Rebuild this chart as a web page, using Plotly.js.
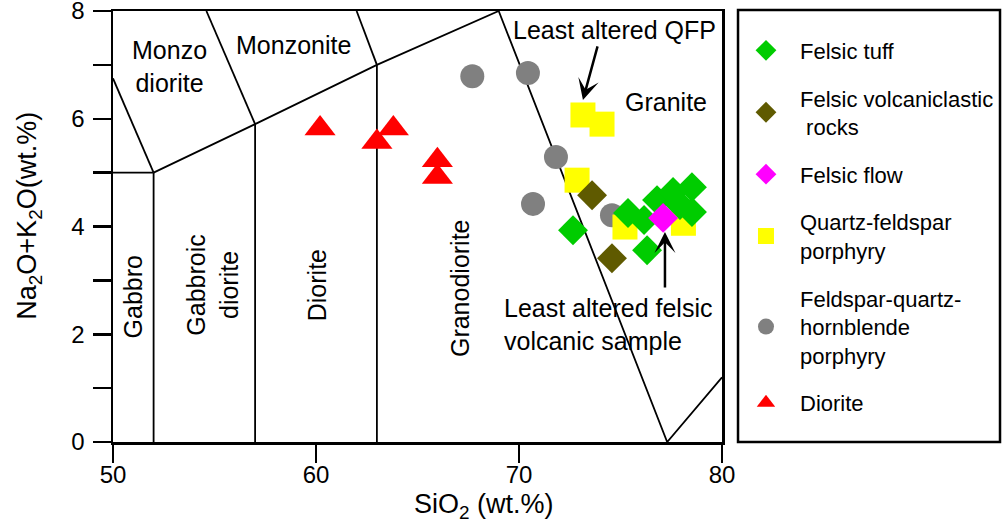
<!DOCTYPE html>
<html>
<head>
<meta charset="utf-8">
<script src="https://cdn.plot.ly/plotly-3.0.1.min.js"></script>
<style>html,body{margin:0;padding:0;background:#fff;}#chart{width:1002px;height:531px;}</style>
</head>
<body>
<div id="chart"></div>
<script>
// ---- Data (SiO2 wt.% vs Na2O+K2O wt.%) ----
const felsicTuffX = [72.66, 75.37, 76.16, 76.31, 76.8, 77.59, 77.93, 78.52, 78.52];
const felsicTuffY = [3.93, 4.25, 4.12, 3.56, 4.49, 4.64, 4.40, 4.73, 4.27];

const volcaniclasticX = [73.6, 74.58];
const volcaniclasticY = [4.58, 3.41];

const felsicFlowX = [77.1];
const felsicFlowY = [4.16];

const qfpX = [73.15, 74.09, 72.86, 75.22, 78.1];
const qfpY = [6.07, 5.90, 4.86, 3.99, 4.06];

const fqhpX = [67.7, 70.44, 71.82, 70.69, 74.58];
const fqhpY = [6.79, 6.85, 5.29, 4.42, 4.21];

const dioriteX = [60.2, 63.0, 63.81, 65.98, 65.98];
const dioriteY = [5.82, 5.57, 5.82, 5.23, 4.92];

// Classification field boundaries (null separates segments)
const boundaryX = [52, 52, null, 50, 52, null, 50, 52, null,
                   52, 57, 63, 69, null, 57, 57, null, 57, 54.6, null,
                   63, 63, null, 63, 62, null, 69, 77.3, 80];
const boundaryY = [0, 5, null, 5, 5, null, 6.75, 5, null,
                   5, 5.9, 7, 8, null, 0, 5.9, null, 5.9, 8, null,
                   0, 7, null, 7, 8, null, 8, 0, 1.2];

// Field names and their positions
const fieldNames = ['Monzo<br>diorite', 'Monzonite', 'Granite', 'Gabbro', 'Gabbroic<br>diorite', 'Diorite', 'Granodiorite'];
const fieldX = [52.8, 58.9, 77.24, 51.0, 54.9, 60.05, 67.1];
const fieldY = [6.97, 7.37, 6.31, 2.69, 2.91, 2.91, 2.86];
const fieldAngle = [0, 0, 0, -90, -90, -90, -90];

const xTicks = [50, 60, 70, 80];
const yTicks = [0, 2, 4, 6, 8];

const FONT = 'Liberation Sans, Arial, Helvetica, sans-serif';

function pts(name, x, y, symbol, color, size, rank) {
  return {
    type: 'scatter', mode: 'markers', name: name, x: x, y: y,
    legendgroup: 'g' + rank, legendrank: rank,
    marker: {symbol: symbol, color: color, size: size, line: {width: 0}},
    hoverinfo: 'skip'
  };
}

const traces = [
  {type: 'scatter', mode: 'lines', x: boundaryX, y: boundaryY, connectgaps: false,
   line: {color: '#000', width: 1.8}, showlegend: false, hoverinfo: 'skip'},
  pts('Feldspar-quartz-<br>hornblende<br>porphyry', fqhpX, fqhpY, 'circle', '#808080', 24, 5),
  pts('Quartz-feldspar<br>porphyry', qfpX, qfpY, 'square', '#FFFF00', 25, 4),
  pts('Felsic tuff', felsicTuffX, felsicTuffY, 'diamond', '#00CC00', 23, 1),
  pts('Felsic volcaniclastic<br> rocks', volcaniclasticX, volcaniclasticY, 'diamond', '#5F5A00', 23, 2),
  pts('Felsic flow', felsicFlowX, felsicFlowY, 'diamond', '#FF00FF', 23, 3),
  pts('Diorite', dioriteX, dioriteY, 'triangle-up', '#FF0000', 27, 6)
];

const annotations = fieldNames.map((t, i) => ({
  x: fieldX[i], y: fieldY[i], xref: 'x', yref: 'y', text: t, showarrow: false,
  textangle: fieldAngle[i], font: {family: FONT, size: 25, color: '#000'},
  xanchor: 'center', yanchor: 'middle', align: 'center'
}));

annotations.push(
  {x: 74.68, y: 7.64, xref: 'x', yref: 'y', text: 'Least altered QFP', showarrow: false,
   font: {family: FONT, size: 25, color: '#000'}, xanchor: 'center', yanchor: 'middle'},
  {x: 69.16, y: 2.19, xref: 'x', yref: 'y', text: 'Least altered felsic<br>volcanic sample', showarrow: false,
   font: {family: FONT, size: 25, color: '#000'}, xanchor: 'left', yanchor: 'middle', align: 'left'},
  {x: 73.15, y: 6.35, xref: 'x', yref: 'y', text: '', showarrow: true, ax: 15, ay: -55,
   arrowhead: 3, arrowsize: 1.4, arrowwidth: 2.5, arrowcolor: '#000', standoff: 0},
  {x: 77.19, y: 3.90, xref: 'x', yref: 'y', text: '', showarrow: true, ax: 0, ay: 57,
   arrowhead: 3, arrowsize: 1.4, arrowwidth: 2.5, arrowcolor: '#000', standoff: 0},
  {x: 0.609, y: -0.148, xref: 'paper', yref: 'paper', text: 'SiO<sub>2</sub> (wt.%)', showarrow: false,
   font: {family: FONT, size: 27, color: '#000'}, xanchor: 'center', yanchor: 'middle'},
  {x: -0.138, y: 0.525, xref: 'paper', yref: 'paper', text: 'Na<sub>2</sub>O+K<sub>2</sub>O(wt.%)', showarrow: false,
   textangle: -90, font: {family: FONT, size: 27, color: '#000'}, xanchor: 'center', yanchor: 'middle'}
);

const layout = {
  width: 1002, height: 531,
  margin: {l: 113, r: 280, t: 11, b: 89, autoexpand: false},
  paper_bgcolor: '#fff', plot_bgcolor: '#fff',
  hovermode: false,
  font: {family: FONT, color: '#000'},
  xaxis: {
    range: [50, 80], tickvals: xTicks, ticktext: xTicks.map(String),
    showgrid: false, zeroline: false, showline: true, mirror: true,
    linecolor: '#000', linewidth: 2.5,
    ticks: 'outside', ticklen: 18, tickwidth: 2.5, tickcolor: '#000',
    ticklabelstandoff: -8, ticklabeloverflow: 'allow',
    tickfont: {family: FONT, size: 24, color: '#000'}
  },
  yaxis: {
    range: [0, 8.0001], tickvals: yTicks, ticktext: yTicks.map(String),
    showgrid: false, zeroline: false, showline: true, mirror: true,
    linecolor: '#000', linewidth: 2.5,
    ticks: 'outside', ticklen: 18, tickwidth: 2.5, tickcolor: '#000',
    ticklabelstandoff: 3, ticklabeloverflow: 'allow',
    tickfont: {family: FONT, size: 24, color: '#000'},
    minor: {dtick: 1, ticks: 'outside', ticklen: 18, tickwidth: 2.5, tickcolor: '#000', showgrid: false}
  },
  showlegend: true,
  legend: {
    x: 1.0164, xanchor: 'left', y: 0.957, yanchor: 'top',
    bgcolor: 'rgba(0,0,0,0)', borderwidth: 0,
    itemwidth: 58, tracegroupgap: 16, valign: 'middle',
    font: {family: FONT, size: 22, color: '#000'}
  },
  shapes: [
    {type: 'rect', xref: 'paper', yref: 'paper', x0: 1.0263, x1: 1.4565, y0: 0, y1: 1.0023,
     line: {color: '#000', width: 2.5}, fillcolor: 'rgba(0,0,0,0)'}
  ],
  annotations: annotations
};

Plotly.newPlot('chart', traces, layout, {staticPlot: true, displayModeBar: false});
</script>
</body>
</html>
